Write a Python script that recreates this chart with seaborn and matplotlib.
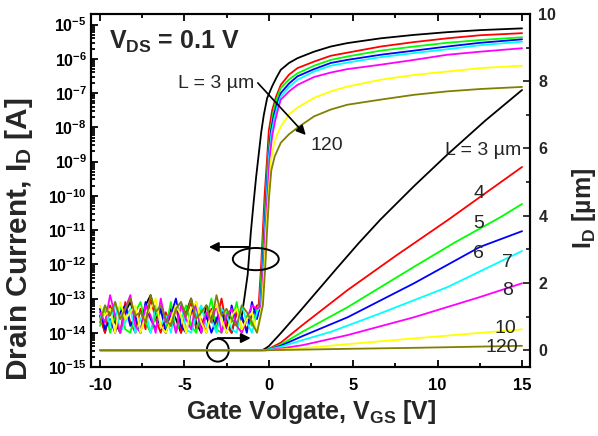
import numpy as np
import pandas as pd
import seaborn as sns
import matplotlib
matplotlib.use("Agg")
import matplotlib.pyplot as plt
from matplotlib.patches import Ellipse
from matplotlib.ticker import LogLocator, NullFormatter, FuncFormatter, MultipleLocator

# ---------------- data ----------------
labels = ["3", "4", "5", "6", "7", "8", "10", "120"]
colors = ["#000000", "#ff0000", "#00ff00", "#0000ff", "#00ffff", "#ff00ff", "#ffff00", "#808000"]

# off-state noise (log10 of I_D [A])
noise_v = [-10.0, -9.7, -9.4, -9.1, -8.8, -8.5, -8.2, -7.9, -7.6, -7.3, -7.0, -6.7, -6.4, -6.1, -5.8, -5.5,
           -5.2, -4.9, -4.6, -4.3, -4.0, -3.7, -3.4, -3.1, -2.8, -2.5, -2.2, -1.9, -1.6, -1.3, -1.0, -0.7]
noise_L3 = [-13.5, -14.0, -13.3, -13.7, -14.0, -13.4, -13.1, -13.6, -14.0, -13.2, -12.9, -13.5, -13.8, -14.0,
            -13.3, -13.6, -14.0, -13.4, -13.0, -13.7, -14.0, -13.2, -13.5, -13.9, -13.3, -13.6, -14.0, -13.4]
noise_L4 = [-13.5, -14.0, -13.2, -13.6, -14.0, -13.1, -13.7, -14.0, -13.3, -13.9, -13.0, -13.6, -14.0, -13.4, -13.8, -13.2,
            -14.0, -13.5, -13.1, -13.9, -13.6, -14.0, -13.3, -13.7, -13.0, -13.8, -14.0, -13.4, -13.6, -13.9, -13.5, -13.2]
noise_L5 = [-13.8, -13.3, -14.0, -13.5, -13.2, -13.9, -14.0, -13.4, -13.1, -13.7, -14.0, -13.5, -13.3, -13.9, -13.1, -14.0,
            -13.6, -13.2, -13.8, -14.0, -13.3, -13.6, -13.0, -13.9, -14.0, -13.4, -13.7, -13.1, -14.0, -13.5, -13.8, -13.3]
noise_L6 = [-13.3, -13.9, -13.6, -14.0, -13.4, -13.2, -13.8, -13.5, -14.0, -13.1, -13.6, -13.9, -13.3, -14.0, -13.5, -13.0,
            -13.8, -14.0, -13.4, -13.2, -13.9, -13.5, -14.0, -13.6, -13.3, -14.0, -13.2, -13.8, -13.5, -14.0, -13.1, -13.6]
noise_L7 = [-13.6, -13.2, -13.8, -13.1, -14.0, -13.7, -13.3, -14.0, -13.6, -13.4, -14.0, -13.2, -13.8, -13.5, -14.0, -13.3,
            -13.1, -13.9, -14.0, -13.5, -13.2, -13.8, -13.6, -14.0, -13.3, -13.5, -13.9, -14.0, -13.2, -13.7, -14.0, -13.4]
noise_L8 = [-13.4, -13.7, -12.9, -13.5, -14.0, -13.3, -12.9, -13.8, -14.0, -13.2, -13.5, -14.0, -13.0, -13.7, -13.4, -14.0,
            -13.2, -13.6, -13.9, -13.1, -14.0, -13.4, -13.7, -13.2, -14.0, -13.5, -13.3, -13.8, -14.0, -13.6, -13.2, -13.3]
noise_L10 = [-13.2, -13.5, -13.3, -14.0, -13.1, -13.6, -13.4, -13.2, -14.0, -13.5, -13.3, -13.0, -13.8, -14.0, -13.6, -13.2,
             -13.5, -14.0, -13.3, -13.1, -13.7, -14.0, -13.4, -13.2, -13.6, -14.0, -13.5, -13.3, -13.9, -13.6, -13.4, -14.0]
noise_L120 = [-13.7, -13.2, -13.5, -13.1, -13.6, -13.3, -13.0, -13.5, -13.4, -13.7, -12.9, -13.4, -13.2, -13.6, -13.8, -13.3,
              -13.1, -13.5, -13.0, -13.6, -13.4, -13.2, -13.7, -12.9, -13.5, -13.3, -13.6, -13.8, -13.2, -13.4, -13.7, -14.0]

# on-state (log10 of I_D [A])
on_v_L3 = [-1.6, -1.45, -1.25, -1.07, -0.9, -0.75, -0.6, -0.45, -0.3, -0.1, 0.2, 0.45, 0.71, 1.2, 1.7, 2.68, 3.67, 4.65, 6.63, 8.6, 10.57, 12.54, 15.0]
on_i_L3 = [-13.5, -13.0, -12.3, -11.1, -10.2, -9.45, -8.8, -8.15, -7.65, -7.15, -6.8, -6.55, -6.32, -6.12, -5.98, -5.79, -5.64, -5.54, -5.4, -5.3, -5.22, -5.16, -5.11]
on_v_L4 = [-0.6, -0.45, -0.35, -0.25, -0.1, 0.0, 0.2, 0.42, 0.71, 1.2, 1.7, 2.68, 3.67, 4.65, 6.63, 8.6, 10.57, 12.54, 15.0]
on_i_L4 = [-13.2, -12.0, -11.0, -10.0, -8.9, -8.1, -7.5, -7.12, -6.76, -6.46, -6.27, -6.08, -5.91, -5.82, -5.64, -5.51, -5.4, -5.31, -5.25]
on_v_L5 = [-0.55, -0.4, -0.3, -0.18, -0.05, 0.1, 0.25, 0.45, 0.71, 1.2, 1.7, 2.68, 3.67, 4.65, 6.63, 8.6, 10.57, 12.54, 15.0]
on_i_L5 = [-13.2, -12.0, -11.0, -10.0, -8.9, -8.1, -7.6, -7.2, -6.85, -6.6, -6.42, -6.2, -6.03, -5.93, -5.76, -5.64, -5.53, -5.45, -5.37]
on_v_L6 = [-0.5, -0.36, -0.26, -0.15, -0.02, 0.12, 0.3, 0.5, 0.71, 1.2, 1.7, 2.68, 3.67, 4.65, 6.63, 8.6, 10.57, 12.54, 15.0]
on_i_L6 = [-13.2, -12.0, -11.0, -10.0, -8.9, -8.15, -7.65, -7.28, -7.0, -6.72, -6.51, -6.3, -6.12, -6.03, -5.88, -5.76, -5.64, -5.53, -5.43]
on_v_L7 = [-0.48, -0.33, -0.23, -0.12, 0.0, 0.15, 0.32, 0.52, 0.71, 1.2, 1.7, 2.68, 3.67, 4.65, 6.63, 8.6, 10.57, 12.54, 15.0]
on_i_L7 = [-13.2, -12.0, -11.0, -10.0, -8.9, -8.2, -7.75, -7.38, -7.1, -6.82, -6.61, -6.37, -6.2, -6.11, -5.95, -5.83, -5.72, -5.6, -5.5]
on_v_L8 = [-0.45, -0.3, -0.2, -0.08, 0.05, 0.2, 0.38, 0.56, 0.71, 1.2, 1.7, 2.68, 3.67, 4.65, 6.63, 8.6, 10.57, 12.54, 15.0]
on_i_L8 = [-13.2, -12.0, -11.0, -10.0, -8.9, -8.25, -7.8, -7.45, -7.19, -6.95, -6.76, -6.53, -6.4, -6.3, -6.17, -6.03, -5.88, -5.79, -5.69]
on_v_L10 = [-0.4, -0.25, -0.15, -0.02, 0.12, 0.3, 0.5, 0.71, 1.2, 1.7, 2.68, 3.67, 4.65, 6.63, 8.6, 10.57, 12.54, 15.0]
on_i_L10 = [-13.2, -12.0, -11.0, -10.0, -9.0, -8.5, -8.2, -7.98, -7.62, -7.42, -7.14, -6.95, -6.81, -6.61, -6.47, -6.37, -6.27, -6.2]
on_v_L120 = [-0.35, -0.2, -0.1, 0.02, 0.15, 0.35, 0.71, 1.2, 1.7, 2.68, 3.67, 4.65, 6.63, 8.6, 10.57, 12.54, 15.0]
on_i_L120 = [-13.2, -12.0, -11.0, -10.0, -9.25, -8.85, -8.45, -8.2, -8.01, -7.68, -7.48, -7.34, -7.19, -7.05, -6.95, -6.88, -6.82]

# linear-scale drain current (right axis)
lin_v_L3 = [-10.0, -0.4, -0.2, 0.0, 0.7, 1.9, 4.0, 5.3, 6.6, 8.6, 10.6, 12.8, 15.0]
lin_i_L3 = [0.0, 0.0, 0.05, 0.12, 0.5, 1.19, 2.42, 3.17, 3.88, 4.88, 5.83, 6.82, 7.74]
lin_v_L4 = [-10.0, -0.25, 0.0, 0.7, 2.0, 4.67, 7.5, 10.6, 15.0]
lin_i_L4 = [0.0, 0.0, 0.04, 0.22, 0.75, 1.79, 2.8, 3.87, 5.45]
lin_v_L5 = [-10.0, -0.2, 0.0, 0.7, 2.0, 4.67, 8.6, 11.0, 13.7, 15.0]
lin_i_L5 = [0.0, 0.0, 0.03, 0.16, 0.55, 1.28, 2.48, 3.2, 3.95, 4.35]
lin_v_L6 = [-10.0, -0.15, 0.0, 0.7, 2.0, 4.67, 8.6, 12.5, 15.0]
lin_i_L6 = [0.0, 0.0, 0.02, 0.13, 0.42, 0.98, 1.99, 3.07, 3.54]
lin_v_L7 = [-10.0, -0.1, 0.0, 0.7, 2.0, 3.7, 6.63, 10.6, 15.0]
lin_i_L7 = [0.0, 0.0, 0.02, 0.1, 0.3, 0.55, 1.1, 1.88, 2.95]
lin_v_L8 = [-10.0, -0.05, 0.7, 2.0, 4.67, 8.6, 12.5, 15.0]
lin_i_L8 = [0.0, 0.0, 0.05, 0.15, 0.45, 0.98, 1.58, 1.99]
lin_v_L10 = [-10.0, 0.0, 2.0, 4.67, 8.6, 15.0]
lin_i_L10 = [0.0, 0.0, 0.06, 0.18, 0.35, 0.62]
lin_v_L120 = [-10.0, 0.0, 4.67, 8.6, 15.0]
lin_i_L120 = [0.0, 0.0, 0.04, 0.07, 0.13]

noise_sets = [noise_L3, noise_L4, noise_L5, noise_L6, noise_L7, noise_L8, noise_L10, noise_L120]
on_v_sets = [on_v_L3, on_v_L4, on_v_L5, on_v_L6, on_v_L7, on_v_L8, on_v_L10, on_v_L120]
on_i_sets = [on_i_L3, on_i_L4, on_i_L5, on_i_L6, on_i_L7, on_i_L8, on_i_L10, on_i_L120]
lin_v_sets = [lin_v_L3, lin_v_L4, lin_v_L5, lin_v_L6, lin_v_L7, lin_v_L8, lin_v_L10, lin_v_L120]
lin_i_sets = [lin_i_L3, lin_i_L4, lin_i_L5, lin_i_L6, lin_i_L7, lin_i_L8, lin_i_L10, lin_i_L120]

# ---------------- style ----------------
sns.set_theme(style="ticks")
plt.rcParams["font.family"] = ["Liberation Sans", "DejaVu Sans"]
plt.rcParams["mathtext.fontset"] = "custom"
plt.rcParams["mathtext.rm"] = "Liberation Sans:bold"
plt.rcParams["mathtext.bf"] = "Liberation Sans:bold"
plt.rcParams["mathtext.it"] = "Liberation Sans:bold"
plt.rcParams["axes.linewidth"] = 1.5

fig = plt.figure(figsize=(5.98, 4.36), dpi=100)
ax = fig.add_axes([91 / 598, 1 - 367 / 436, (530 - 91) / 598, (367 - 14) / 436])
ax.set_yscale("log")
ax2 = ax.twinx()

lw = 1.3
for lab, col, nz, ov, oi in zip(labels, colors, noise_sets, on_v_sets, on_i_sets):
    xv = list(noise_v[:len(nz)]) + list(ov)
    yv = [10.0 ** v for v in list(nz) + list(oi)]
    df = pd.DataFrame({"Vgs": xv, "Id": yv})
    sns.lineplot(data=df, x="Vgs", y="Id", ax=ax, color=col, lw=lw, sort=False, estimator=None)

for lab, col, lv, li in zip(labels, colors, lin_v_sets, lin_i_sets):
    df = pd.DataFrame({"Vgs": lv, "Id": li})
    sns.lineplot(data=df, x="Vgs", y="Id", ax=ax2, color=col, lw=lw, sort=False, estimator=None)

# axes limits / ticks
ax.set_xlim(-10.53, 15.47)
ax.set_ylim(1e-15, 10 ** -4.69)
ax2.set_ylim(-0.5, 10)
ax.set_xlabel("")
ax.set_ylabel("")
ax2.set_ylabel("")

ax.xaxis.set_major_locator(MultipleLocator(5))
ax.xaxis.set_minor_locator(MultipleLocator(2.5))
ax.yaxis.set_major_locator(LogLocator(base=10, numticks=30))
ax.yaxis.set_minor_locator(LogLocator(base=10, subs=np.arange(2, 10), numticks=30))
ax.yaxis.set_minor_formatter(NullFormatter())
ax.yaxis.set_major_formatter(FuncFormatter(lambda v, p: r"$\mathbf{10^{%d}}$" % int(round(np.log10(v)))))
ax.xaxis.set_major_formatter(FuncFormatter(lambda v, p: "%d" % v if v >= 0 else "-%d" % abs(v)))
ax2.yaxis.set_major_locator(MultipleLocator(2))
ax2.yaxis.set_minor_locator(MultipleLocator(1))

ax.tick_params(axis="both", which="both", direction="in", top=True, right=False, width=1.3, colors="black")
ax.tick_params(axis="both", which="major", length=5)
ax.tick_params(axis="both", which="minor", length=3)
ax.tick_params(axis="x", which="major", labelsize=12, pad=8)
ax.tick_params(axis="y", which="major", labelsize=11.5, pad=3)
ax2.tick_params(axis="y", which="both", direction="in", width=1.3)
ax2.tick_params(axis="y", which="major", length=5, labelsize=11.5, pad=6)
ax2.tick_params(axis="y", which="minor", length=3)
for lab in ax.get_xticklabels() + ax.get_yticklabels() + ax2.get_yticklabels():
    lab.set_fontweight("bold")
for a in (ax, ax2):
    for s in a.spines.values():
        s.set_linewidth(1.5)
        s.set_color("black")

# axis labels
fig.text(311 / 598, 1 - 412 / 436, r"Gate Volgate, V$_{\mathbf{GS}}$ [V]", ha="center", va="center",
         fontsize=18, fontweight="bold")
fig.text(19 / 598, 1 - 239 / 436, r"Drain Current, I$_{\mathbf{D}}$ [A]", ha="center", va="center",
         rotation=90, fontsize=21.5, fontweight="bold")
fig.text(584 / 598, 1 - 208 / 436, r"I$_{\mathbf{D}}$ [µm]", ha="center", va="center",
         rotation=90, fontsize=18, fontweight="bold")

# annotations (right-axis data coordinates)
ax2.text(-9.47, 9.17, r"V$_{\mathbf{DS}}$ = 0.1 V", ha="left", va="center", fontsize=18, fontweight="bold")
ax2.text(-5.38, 7.92, "L = 3 µm", ha="left", va="center", fontsize=14)
ax2.text(2.49, 6.1, "120", ha="left", va="center", fontsize=14)
ax2.annotate("", xy=(2.19, 6.4), xytext=(-0.65, 7.95),
             arrowprops=dict(arrowstyle="-|>", color="black", lw=1.2, mutation_scale=14, shrinkA=0, shrinkB=0))
ax2.text(14.95, 5.95, "L = 3 µm", ha="right", va="center", fontsize=14)
for txt, xx, yy in [("4", 12.43, 4.67), ("5", 12.43, 3.78), ("6", 12.43, 2.89), ("7", 14.14, 2.62),
                    ("8", 14.14, 1.79), ("10", 14.02, 0.65), ("120", 13.79, 0.09)]:
    ax2.text(xx, yy, txt, ha="center", va="center", fontsize=14)

# axis indicator ellipses and arrows
ax2.add_patch(Ellipse((-0.77, 2.71), 2.72, 0.66, fill=False, edgecolor="black", lw=1.4))
ax2.annotate("", xy=(-3.55, 3.07), xytext=(-1.18, 3.07),
             arrowprops=dict(arrowstyle="-|>", color="black", lw=1.4, mutation_scale=14, shrinkA=0, shrinkB=0))
ax2.add_patch(Ellipse((-3.02, 0.0), 1.3, 0.68, fill=False, edgecolor="black", lw=1.4))
ax2.annotate("", xy=(-1.07, 0.36), xytext=(-3.02, 0.36),
             arrowprops=dict(arrowstyle="-|>", color="black", lw=1.4, mutation_scale=14, shrinkA=0, shrinkB=0))

fig.savefig("out.png", dpi=100)
